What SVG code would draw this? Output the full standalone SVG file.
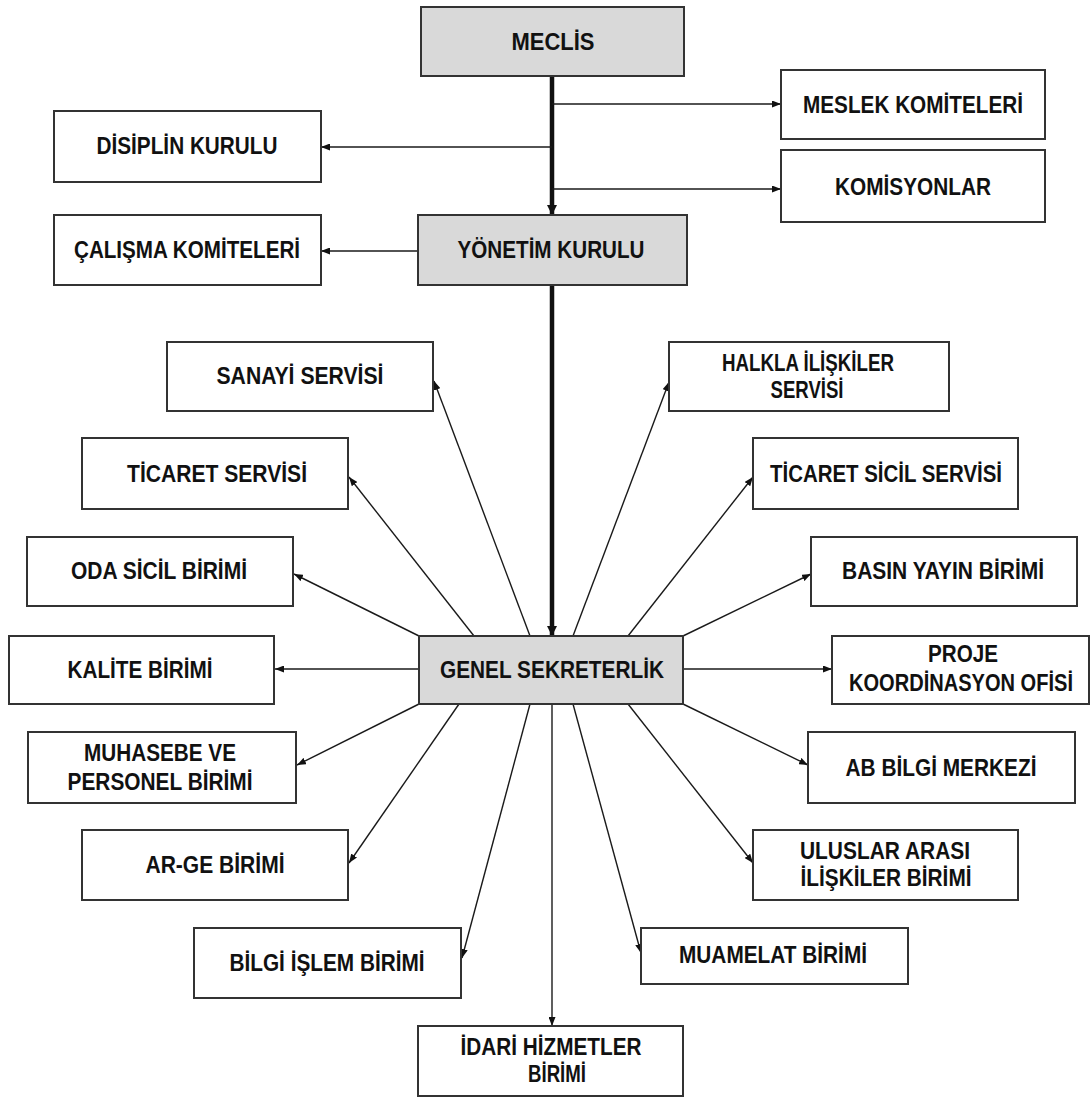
<svg xmlns="http://www.w3.org/2000/svg" width="1092" height="1097" viewBox="0 0 1092 1097">
<style>
.box{fill:#ffffff;stroke:#333333;stroke-width:2}
.gray{fill:#d9d9d9}
.t{font-family:"Liberation Sans",Arial,sans-serif;font-weight:bold;font-size:23px;fill:#111111;text-anchor:middle}
.c{stroke:#1a1a1a;stroke-width:1.4;fill:none;marker-end:url(#a)}
.k{stroke:#111111;stroke-width:4.5;fill:none;marker-end:url(#ak)}
</style>
<defs>
<marker id="a" markerUnits="userSpaceOnUse" markerWidth="9" markerHeight="7" refX="9" refY="3.5" orient="auto"><path d="M0,0 L9,3.5 L0,7 z" fill="#111111"/></marker>
<marker id="ak" markerUnits="userSpaceOnUse" markerWidth="10" markerHeight="10" refX="10" refY="5" orient="auto"><path d="M0,0 L10,5 L0,10 z" fill="#111111"/></marker>
</defs>
<rect width="1092" height="1097" fill="#ffffff"/>
<g id="connectors">
<line class="k" x1="552" y1="76" x2="552" y2="215"/>
<line class="k" x1="552" y1="285" x2="552" y2="636"/>
<line class="c" x1="552" y1="104" x2="781" y2="104"/>
<line class="c" x1="552" y1="189" x2="781" y2="189"/>
<line class="c" x1="552" y1="147" x2="321" y2="147"/>
<line class="c" x1="418" y1="251" x2="321" y2="251"/>
<line class="c" x1="530" y1="636" x2="434" y2="381"/>
<line class="c" x1="474" y1="636" x2="349" y2="477"/>
<line class="c" x1="419" y1="636" x2="294" y2="574"/>
<line class="c" x1="419" y1="669" x2="275" y2="669"/>
<line class="c" x1="419" y1="704" x2="297" y2="765"/>
<line class="c" x1="459" y1="704" x2="349" y2="863"/>
<line class="c" x1="530" y1="704" x2="462" y2="958"/>
<line class="c" x1="552" y1="704" x2="552" y2="1026"/>
<line class="c" x1="573" y1="704" x2="641" y2="953"/>
<line class="c" x1="628" y1="704" x2="753" y2="863"/>
<line class="c" x1="683" y1="704" x2="808" y2="765"/>
<line class="c" x1="683" y1="669" x2="832" y2="669"/>
<line class="c" x1="683" y1="636" x2="811" y2="574"/>
<line class="c" x1="628" y1="636" x2="753" y2="477"/>
<line class="c" x1="573" y1="636" x2="669" y2="382"/>
</g>
<g id="meclis"><rect class="box gray" x="421" y="7" width="263" height="69"/><text class="t" x="553" y="50" textLength="83" lengthAdjust="spacingAndGlyphs">MECLİS</text></g>
<g id="meslek-komiteleri"><rect class="box" x="781" y="70" width="264" height="69"/><text class="t" x="913" y="113" textLength="220" lengthAdjust="spacingAndGlyphs">MESLEK KOMİTELERİ</text></g>
<g id="disiplin-kurulu"><rect class="box" x="54" y="111" width="267" height="71"/><text class="t" x="187" y="154" textLength="181" lengthAdjust="spacingAndGlyphs">DİSİPLİN KURULU</text></g>
<g id="komisyonlar"><rect class="box" x="781" y="150" width="264" height="72"/><text class="t" x="913" y="195" textLength="156" lengthAdjust="spacingAndGlyphs">KOMİSYONLAR</text></g>
<g id="calisma-komiteleri"><rect class="box" x="54" y="215" width="267" height="70"/><text class="t" x="187" y="258" textLength="226" lengthAdjust="spacingAndGlyphs">ÇALIŞMA KOMİTELERİ</text></g>
<g id="yonetim-kurulu"><rect class="box gray" x="418" y="215" width="269" height="70"/><text class="t" x="551" y="258" textLength="187" lengthAdjust="spacingAndGlyphs">YÖNETİM KURULU</text></g>
<g id="sanayi-servisi"><rect class="box" x="167" y="342" width="266" height="69"/><text class="t" x="300" y="384" textLength="167" lengthAdjust="spacingAndGlyphs">SANAYİ SERVİSİ</text></g>
<g id="halkla-iliskiler"><rect class="box" x="669" y="342" width="280" height="69"/><text class="t" x="808" y="371" textLength="172" lengthAdjust="spacingAndGlyphs">HALKLA İLİŞKİLER</text><text class="t" x="807" y="398" textLength="73" lengthAdjust="spacingAndGlyphs">SERVİSİ</text></g>
<g id="ticaret-servisi"><rect class="box" x="82" y="438" width="266" height="71"/><text class="t" x="217" y="482" textLength="180" lengthAdjust="spacingAndGlyphs">TİCARET SERVİSİ</text></g>
<g id="ticaret-sicil-servisi"><rect class="box" x="753" y="438" width="265" height="71"/><text class="t" x="886" y="482" textLength="232" lengthAdjust="spacingAndGlyphs">TİCARET SİCİL SERVİSİ</text></g>
<g id="oda-sicil-birimi"><rect class="box" x="27" y="537" width="266" height="69"/><text class="t" x="159" y="579" textLength="176" lengthAdjust="spacingAndGlyphs">ODA SİCİL BİRİMİ</text></g>
<g id="basin-yayin-birimi"><rect class="box" x="811" y="537" width="266" height="69"/><text class="t" x="943" y="579" textLength="202" lengthAdjust="spacingAndGlyphs">BASIN YAYIN BİRİMİ</text></g>
<g id="kalite-birimi"><rect class="box" x="9" y="636" width="265" height="68"/><text class="t" x="140" y="678" textLength="145" lengthAdjust="spacingAndGlyphs">KALİTE BİRİMİ</text></g>
<g id="genel-sekreterlik"><rect class="box gray" x="419" y="636" width="264" height="68"/><text class="t" x="552" y="678" textLength="224" lengthAdjust="spacingAndGlyphs">GENEL SEKRETERLİK</text></g>
<g id="proje-koordinasyon-ofisi"><rect class="box" x="832" y="636" width="257" height="68"/><text class="t" x="963" y="662" textLength="70" lengthAdjust="spacingAndGlyphs">PROJE</text><text class="t" x="961" y="691" textLength="224" lengthAdjust="spacingAndGlyphs">KOORDİNASYON OFİSİ</text></g>
<g id="muhasebe-personel-birimi"><rect class="box" x="28" y="732" width="268" height="71"/><text class="t" x="160" y="761" textLength="152" lengthAdjust="spacingAndGlyphs">MUHASEBE VE</text><text class="t" x="160" y="790" textLength="185" lengthAdjust="spacingAndGlyphs">PERSONEL BİRİMİ</text></g>
<g id="ab-bilgi-merkezi"><rect class="box" x="808" y="732" width="267" height="71"/><text class="t" x="941" y="776" textLength="191" lengthAdjust="spacingAndGlyphs">AB BİLGİ MERKEZİ</text></g>
<g id="ar-ge-birimi"><rect class="box" x="82" y="830" width="266" height="70"/><text class="t" x="215" y="873" textLength="139" lengthAdjust="spacingAndGlyphs">AR-GE BİRİMİ</text></g>
<g id="uluslar-arasi-iliskiler-birimi"><rect class="box" x="753" y="830" width="265" height="70"/><text class="t" x="885" y="859" textLength="170" lengthAdjust="spacingAndGlyphs">ULUSLAR ARASI</text><text class="t" x="886" y="886" textLength="171" lengthAdjust="spacingAndGlyphs">İLİŞKİLER BİRİMİ</text></g>
<g id="bilgi-islem-birimi"><rect class="box" x="194" y="928" width="267" height="70"/><text class="t" x="327" y="971" textLength="195" lengthAdjust="spacingAndGlyphs">BİLGİ İŞLEM BİRİMİ</text></g>
<g id="muamelat-birimi"><rect class="box" x="641" y="928" width="267" height="56"/><text class="t" x="773" y="963" textLength="188" lengthAdjust="spacingAndGlyphs">MUAMELAT BİRİMİ</text></g>
<g id="idari-hizmetler-birimi"><rect class="box" x="418" y="1026" width="265" height="70"/><text class="t" x="551" y="1055" textLength="181" lengthAdjust="spacingAndGlyphs">İDARİ HİZMETLER</text><text class="t" x="557" y="1082" textLength="58" lengthAdjust="spacingAndGlyphs">BİRİMİ</text></g>
</svg>
